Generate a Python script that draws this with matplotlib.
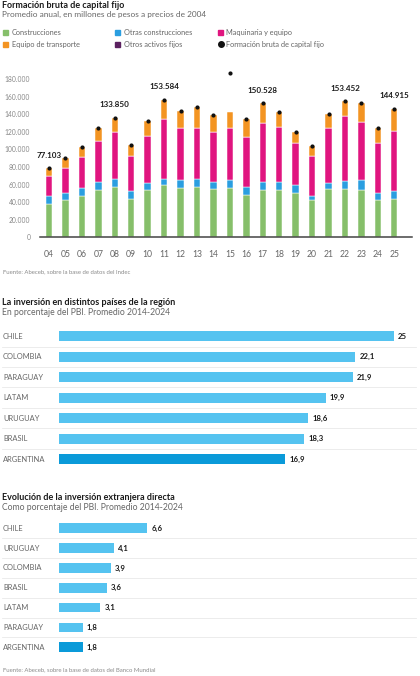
import numpy as np
import matplotlib
matplotlib.use("Agg")
import matplotlib.pyplot as plt
from matplotlib.patches import Rectangle
from matplotlib.transforms import blended_transform_factory
from matplotlib.lines import Line2D

plt.rcParams['font.family'] = ['Lato', 'DejaVu Sans']

# --- data: formación bruta de capital fijo (millones de pesos de 2004)
years = ['04', '05', '06', '07', '08', '09', '10', '11', '12', '13', '14',
         '15', '16', '17', '18', '19', '20', '21', '22', '23', '24', '25']
construcciones = [37500, 42400, 47000, 53800, 56900, 43900, 53800, 59500, 55700, 56900, 54600,
                  55700, 48100, 53800, 53800, 50000, 42400, 54600, 55300, 53800, 42400, 43500]
otras_construcciones = [9400, 7600, 8800, 9100, 9400, 8800, 7600, 7200, 9400, 9100, 8600,
                        9400, 8800, 9400, 9400, 9400, 4500, 6800, 9100, 11400, 8300, 9400]
maquinaria = [23100, 29100, 35200, 47000, 53800, 39800, 54100, 67500, 59500, 58700, 56900,
              59500, 57500, 67100, 62500, 48100, 45500, 63200, 73600, 66300, 56200, 68200]
otros_activos = [0] * 22
equipo_transporte = [8400, 10700, 12100, 14100, 15900, 12200, 16700, 21900, 19300, 23200, 19000,
                     18200, 20100, 22100, 17100, 12500, 11700, 15600, 16700, 20900, 17700, 24700]
fbkf_total = [78400, 89800, 103100, 124000, 136000, 104700, 132200, 156100, 143900, 147900, 139100,
              187100, 134500, 152400, 142800, 120000, 104100, 140200, 154700, 152400, 124600, 145800]
highlight_labels = {'04': '77.103', '08': '133.850', '11': '153.584',
                    '17': '150.528', '22': '153.452', '25': '144.915'}

# --- data: inversión en distintos países (% PBI)
inv_paises = ['CHILE', 'COLOMBIA', 'PARAGUAY', 'LATAM', 'URUGUAY', 'BRASIL', 'ARGENTINA']
inv_valores = [25, 22.1, 21.9, 19.9, 18.6, 18.3, 16.9]

# --- data: inversión extranjera directa (% PBI)
ied_paises = ['CHILE', 'URUGUAY', 'COLOMBIA', 'BRASIL', 'LATAM', 'PARAGUAY', 'ARGENTINA']
ied_valores = [6.6, 4.1, 3.9, 3.6, 3.1, 1.8, 1.8]

GREEN = '#86bf6a'
BLUE = '#2a9ee0'
MAGENTA = '#e0157f'
PURPLE = '#5b2160'
ORANGE = '#f39422'
LIGHT_BLUE = '#55c3f0'
DARK_BLUE = '#0a9ad9'
GREY_TXT = '#666666'
DARK_TXT = '#1a1a1a'

W, H = 420, 676
fig = plt.figure(figsize=(W / 100, H / 100), dpi=100)


def fx(x):
    return x / W


def fy(y):
    return 1 - y / H


def px_axes(left, top, right, bottom):
    return fig.add_axes([fx(left), fy(bottom), (right - left) / W, (bottom - top) / H])


# ================= chart 1 =================
fig.text(fx(2), fy(5), 'Formación bruta de capital fijo', fontsize=6.5, fontweight='bold',
         color=DARK_TXT, va='center')
fig.text(fx(2), fy(14.5), 'Promedio anual, en millones de pesos a precios de 2004', fontsize=5.95,
         color=GREY_TXT, va='center')

legend_items = [('Construcciones', GREEN, 's'), ('Otras construcciones', BLUE, 's'),
                ('Maquinaria y equipo', MAGENTA, 's'), ('Equipo de transporte', ORANGE, 's'),
                ('Otros activos fijos', PURPLE, 's'), ('Formación bruta de capital fijo', '#111111', 'o')]
col_x = [3, 115, 218]
row_y = [32.3, 44]
for k, (name, col, kind) in enumerate(legend_items):
    x0 = col_x[k % 3]
    y0 = row_y[k // 3]
    if kind == 's':
        fig.patches.append(Rectangle((fx(x0), fy(y0 + 2.5)), 5 / W, 5 / H, color=col,
                                     transform=fig.transFigure, figure=fig))
    else:
        fig.add_artist(Line2D([fx(x0 + 2.5)], [fy(y0)], marker='o', markersize=4,
                              color=col, transform=fig.transFigure))
    fig.text(fx(x0 + 8.5), fy(y0), name, fontsize=5.3, color=GREY_TXT, va='center')

ax1 = px_axes(40, 65.8, 411.7, 237.3)
x = np.arange(len(years))
width = 0.39
bottom = np.zeros(len(years))
for vals, col in [(construcciones, GREEN), (otras_construcciones, BLUE), (maquinaria, MAGENTA),
                  (otros_activos, PURPLE), (equipo_transporte, ORANGE)]:
    vals = np.array(vals)
    ax1.bar(x, vals, width, bottom=bottom, color=col, edgecolor='white', linewidth=0.35)
    bottom += vals
ax1.scatter(x, fbkf_total, s=9, color='#111111', zorder=3, linewidths=0)
for i, yr in enumerate(years):
    if yr in highlight_labels:
        ax1.annotate(highlight_labels[yr], (i, fbkf_total[i]), xytext=(0, 9.5),
                     textcoords='offset points', ha='center', va='center',
                     fontsize=5.8, fontweight='bold', color=DARK_TXT)

ax1.set_xlim(-0.55, 22.06)
ax1.set_ylim(0, 195000)
ax1.set_xticks(x)
ax1.set_xticklabels(years)
ax1.set_yticks(np.arange(0, 180001, 20000))
ax1.set_yticklabels([f'{v:,}'.replace(',', '.') for v in range(0, 180001, 20000)])
ax1.tick_params(axis='y', length=0, pad=7, labelsize=4.9, labelcolor='#888888')
ax1.tick_params(axis='x', length=0, pad=9, labelsize=6.2, labelcolor=GREY_TXT)
for s in ['top', 'right', 'left']:
    ax1.spines[s].set_visible(False)
ax1.spines['bottom'].set_color('#444444')
ax1.spines['bottom'].set_linewidth(1.1)
ax1.set_facecolor('none')

fig.text(fx(3), fy(271.5), 'Fuente: Abeceb, sobre la base de datos del Indec', fontsize=4.3,
         color='#8a8a8a', va='center')


# ================= bar charts =================
def hbar_chart(title, subtitle, title_y, paises, valores, first_row_y, row_step):
    fig.text(fx(2), fy(title_y), title, fontsize=6.5, fontweight='bold', color=DARK_TXT, va='center')
    fig.text(fx(2), fy(title_y + 10.4), subtitle, fontsize=6.2, color=GREY_TXT, va='center')
    n = len(paises)
    top = first_row_y - 0.5 * row_step
    bot = first_row_y + (n - 0.5) * row_step
    ax = px_axes(58.7, top, 415, bot)
    rows = np.arange(n)
    colors = [DARK_BLUE if p == 'ARGENTINA' else LIGHT_BLUE for p in paises]
    ax.barh(rows, valores, height=0.49, color=colors)
    ax.set_xlim(0, (415 - 58.7) / 13.42)
    ax.set_ylim(n - 0.5, -0.5)
    ax.axis('off')
    tr = blended_transform_factory(fig.transFigure, ax.transData)
    for r, (p, v) in enumerate(zip(paises, valores)):
        fig.text(fx(3), r, p, transform=tr, fontsize=5.4, color=GREY_TXT, va='center')
        ax.text(v + 0.3, r, f'{v:g}'.replace('.', ','), fontsize=5.6, fontweight='bold',
                color=DARK_TXT, va='center')
    for r in range(n - 1):
        fig.add_artist(Line2D([fx(2), fx(416)], [r + 0.5, r + 0.5], transform=tr,
                              color='#e9e9e9', linewidth=0.6))
    return ax


hbar_chart('La inversión en distintos países de la región',
           'En porcentaje del PBI. Promedio 2014-2024', 302.3,
           inv_paises, inv_valores, 336.3, 20.45)
hbar_chart('Evolución de la inversión extranjera directa',
           'Como porcentaje del PBI. Promedio 2014-2024', 497.3,
           ied_paises, ied_valores, 528.3, 19.83)

fig.text(fx(3), fy(669.3), 'Fuente: Abeceb, sobre la base de datos del Banco Mundial', fontsize=4.3,
         color='#8a8a8a', va='center')

fig.savefig('out.png', dpi=100, facecolor='white')
